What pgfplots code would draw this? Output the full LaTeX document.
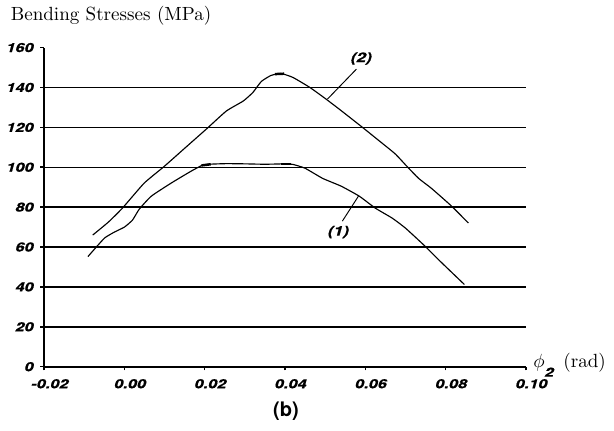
\documentclass[border=0pt]{standalone}
\usepackage{pgfplots}
\pgfplotsset{compat=1.18}
\usepackage{fontspec}
\newfontfamily\tickfont[FakeStretch=1.3,FakeBold=0.6]{TeX Gyre Heros}
\newfontfamily\heros{TeX Gyre Heros}
\begin{document}
\begin{tikzpicture}
\begin{axis}[
  scale only axis, width=252.72pt, height=167.44pt,
  xmin=-0.02, xmax=0.10, ymin=0, ymax=160,
  axis x line*=bottom, axis y line*=left,
  axis line style={line width=1pt},
  xtick={-0.02,0,0.02,0.04,0.06,0.08,0.10},
  ytick={0,20,...,160},
  tick align=outside, major tick length=2pt,
  tick style={line width=0.8pt, black},
  ticklabel style={font=\tickfont\bfseries\itshape\fontsize{6.6}{7}\selectfont},
  /pgf/number format/assume math mode=true,
  xticklabel style={/pgf/number format/.cd, fixed, fixed zerofill, precision=2, /tikz/.cd, xshift=3pt, yshift=-1pt},
  scaled x ticks=false,
  clip=false,
]
\foreach \yy in {20,40,...,140}{
  \edef\tmp{\noexpand\draw[line width=0.75pt] (axis cs:-0.02,\yy) -- (axis cs:0.10,\yy);}\tmp
}
% curve (1)
\addplot[black, line width=0.6pt, smooth, tension=0.3] coordinates {
(-0.0091,55.2) (-0.0070,60.0) (-0.0049,64.6) (-0.0025,67.5) (0.0000,70.0) (0.0020,73.5)
(0.0037,79.0) (0.0067,85.5) (0.0116,92.0) (0.0165,97.9) (0.0193,100.9) (0.0210,101.5)
(0.0254,101.8) (0.0300,101.7) (0.0350,101.5) (0.0400,101.7) (0.0420,101.4) (0.0450,99.5)
(0.0494,94.4) (0.0540,90.5) (0.0585,85.5) (0.0625,79.5) (0.0667,74.5) (0.0700,69.5)
(0.0748,60.6) (0.0790,52.2) (0.0847,41.2)};
\addplot[black, line width=1.3pt] coordinates {(0.0192,100.9) (0.0215,101.5)};
\addplot[black, line width=1.3pt] coordinates {(0.0390,101.6) (0.0415,101.6)};
% curve (2)
\addplot[black, line width=0.6pt, smooth, tension=0.3] coordinates {
(-0.0079,66) (-0.0040,72.5) (-0.0005,79.5) (0.0049,92) (0.0099,100.4) (0.0150,109.5)
(0.0205,119.3) (0.0254,128.2) (0.0296,133.2) (0.0320,137.5) (0.0341,143) (0.0365,146)
(0.0390,147) (0.0420,145) (0.0462,140) (0.0500,134.5) (0.0536,129) (0.0593,120)
(0.0630,114) (0.0674,106.8) (0.0704,100.4) (0.0733,94.4) (0.0765,89.4) (0.0815,80.5)
(0.0857,72)};
\addplot[black, line width=1.3pt] coordinates {(0.0375,146.7) (0.0398,146.9)};
% leaders and labels
\draw[line width=0.5pt] (axis cs:0.0578,149.2) -- (axis cs:0.0506,134.2);
\node[font=\tickfont\bfseries\itshape\fontsize{7}{8}\selectfont] at (axis cs:0.0590,154.5) {(2)};
\draw[line width=0.5pt] (axis cs:0.0543,73) -- (axis cs:0.0583,85.5);
\node[font=\tickfont\bfseries\itshape\fontsize{7}{8}\selectfont] at (axis cs:0.0533,67.5) {(1)};
\end{axis}
\node[anchor=west, inner sep=0] at (-17.7pt,184.1pt) {Bending Stresses (MPa)};
\node[anchor=west, inner sep=0] at (256.5pt,1pt) {$\phi$\raisebox{-5pt}{\tickfont\bfseries\itshape\fontsize{6.6}{7}\selectfont 2}\hspace{5pt}(rad)};
\node[font=\heros\bfseries\fontsize{10.5}{12}\selectfont] at (126.9pt,-23.4pt) {(b)};
\path (-20.28pt,-33.28pt) rectangle (299pt,192.4pt);
\end{tikzpicture}
\end{document}
